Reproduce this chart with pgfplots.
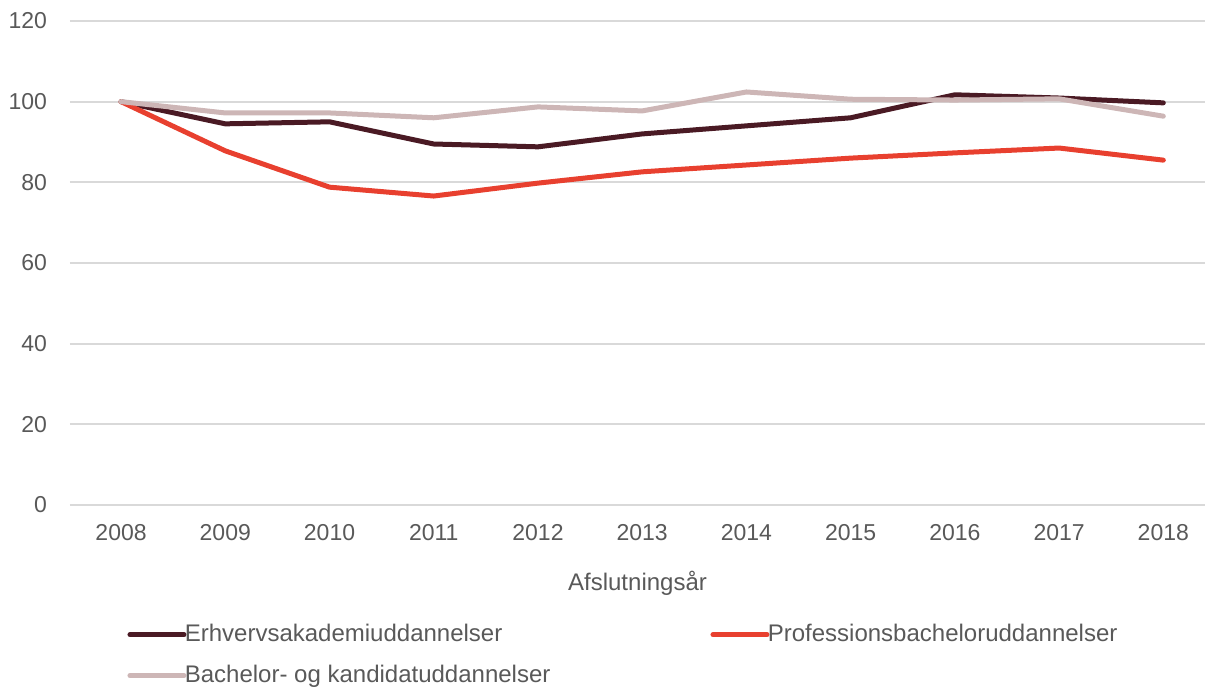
\documentclass[border=0pt]{standalone}
\usepackage{pgfplots}
\pgfplotsset{compat=1.18}
\usepackage{fontspec}
\setmainfont{Liberation Sans}
\definecolor{erhv}{HTML}{4A1A24}
\definecolor{prof}{HTML}{E8402F}
\definecolor{bach}{HTML}{CDB6B6}
\definecolor{txt}{HTML}{595959}
\definecolor{gridc}{HTML}{D9D9D9}

\begin{document}
\begin{tikzpicture}[x=1pt,y=1pt]
\useasboundingbox (-35,-91.5) rectangle (567.5,252.5);
\begin{axis}[
  at={(0,0)}, anchor=south west,
  scale only axis, width=567.5pt, height=242pt,
  xmin=-0.49, xmax=10.4, ymin=0, ymax=120,
  ytick={0,20,...,120},
  xtick={0,...,10},
  xticklabels={2008,2009,2010,2011,2012,2013,2014,2015,2016,2017,2018},
  axis line style={draw=none}, major tick length=0pt,
  ymajorgrids, grid style={gridc, line width=1pt},
  font=\fontsize{11.5}{13.8}\selectfont,
  tick label style={txt},
  /pgf/number format/assume math mode=true,
  yticklabel style={anchor=east, xshift=-8pt},
  xticklabel style={yshift=-6pt},
  xlabel={Afslutningsår},
  xlabel style={txt, yshift=-8.5pt, font=\fontsize{12}{14.4}\selectfont},
  legend columns=2,
  legend cell align=left,
  legend style={at={(0.045,-0.238)}, anchor=north west, draw=none,
    fill=none, nodes={inner sep=0pt, text=txt}, row sep=10.2pt,
    font=\fontsize{12}{14.4}\selectfont},
  legend image code/.code={\draw[line width=2.5pt, line cap=round] (0pt,0pt) -- (27pt,0pt);},
  every axis plot/.append style={line width=2.5pt, line join=round, line cap=round},
]
\addplot[erhv] coordinates {(0,100) (1,94.5) (2,95.0) (3,89.5) (4,88.8) (5,92.0) (6,94.0) (7,96.0) (8,101.7) (9,100.9) (10,99.7)};
\addlegendentry{\makebox[262pt][l]{\hspace{-0.8pt}Erhvervsakademiuddannelser}}
\addplot[prof] coordinates {(0,100) (1,87.8) (2,78.8) (3,76.6) (4,79.8) (5,82.6) (6,84.3) (7,86.0) (8,87.3) (9,88.5) (10,85.5)};
\addlegendentry{\hspace{-0.8pt}Professionsbacheloruddannelser}
\addplot[bach] coordinates {(0,100) (1,97.2) (2,97.2) (3,96.0) (4,98.7) (5,97.7) (6,102.4) (7,100.6) (8,100.4) (9,100.7) (10,96.4)};
\addlegendentry{\hspace{-0.8pt}Bachelor- og kandidatuddannelser}
\end{axis}
\end{tikzpicture}
\end{document}
